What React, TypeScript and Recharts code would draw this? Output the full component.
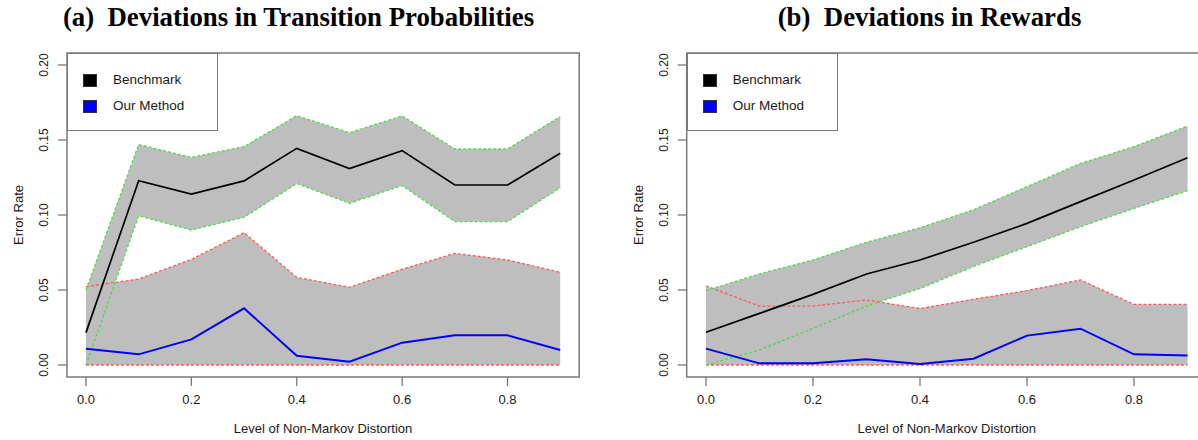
import React from 'react';
import { ComposedChart, Area, Line, XAxis, YAxis, ReferenceArea, Legend, Label } from 'recharts';

const distortion = [0, 0.1, 0.2, 0.3, 0.4, 0.5, 0.6, 0.7, 0.8, 0.9];
const xTicks = [0, 0.2, 0.4, 0.6, 0.8];
const yTicks = [0, 0.05, 0.1, 0.15, 0.2];
const seriesNames = ['Benchmark', 'Our Method'];
const seriesColors = ['#000000', '#0000ff'];

// (a) Deviations in Transition Probabilities
const transBenchMean = [0.0216, 0.1229, 0.114, 0.1227, 0.1444, 0.131, 0.1429, 0.12, 0.12, 0.1411];
const transBenchUpper = [0.05, 0.147, 0.1384, 0.1456, 0.1662, 0.1549, 0.166, 0.144, 0.144, 0.1656];
const transBenchLower = [0.0, 0.0995, 0.09, 0.0985, 0.121, 0.1078, 0.1196, 0.0956, 0.0956, 0.1182];
const transOurMean = [0.0109, 0.0071, 0.0171, 0.0378, 0.0062, 0.0022, 0.0149, 0.0198, 0.0198, 0.01];
const transOurUpper = [0.0522, 0.0573, 0.0704, 0.0882, 0.0584, 0.0518, 0.0638, 0.0744, 0.07, 0.0618];
const transOurLower = [0, 0, 0, 0, 0, 0, 0, 0, 0, 0];

// (b) Deviations in Rewards
const rewardBenchMean = [0.0218, 0.0344, 0.0471, 0.0607, 0.07, 0.0818, 0.0944, 0.1089, 0.1233, 0.1382];
const rewardBenchUpper = [0.0496, 0.0607, 0.07, 0.0818, 0.0915, 0.1035, 0.1189, 0.1344, 0.1456, 0.1593];
const rewardBenchLower = [0.0, 0.01, 0.0244, 0.0393, 0.051, 0.0656, 0.0789, 0.0922, 0.1044, 0.1162];
const rewardOurMean = [0.0109, 0.0011, 0.0011, 0.0038, 0.0007, 0.0042, 0.0196, 0.0242, 0.0071, 0.0064];
const rewardOurUpper = [0.0527, 0.0393, 0.0393, 0.0433, 0.0376, 0.0438, 0.0496, 0.0567, 0.0404, 0.0404];
const rewardOurLower = [0, 0, 0, 0, 0, 0, 0, 0, 0, 0];

const titles = ['(a)\u00a0\u00a0Deviations in Transition Probabilities', '(b)\u00a0\u00a0Deviations in Rewards'];
const xLabel = 'Level of Non-Markov Distortion';
const yLabel = 'Error Rate';

function build(bm: number[], bu: number[], bl: number[], om: number[], ou: number[], ol: number[]) {
  return distortion.map((x, i) => ({
    x,
    benchMean: bm[i],
    benchUpper: bu[i],
    benchLower: bl[i],
    benchBand: [bl[i], bu[i]],
    ourMean: om[i],
    ourUpper: ou[i],
    ourLower: ol[i],
    ourBand: [ol[i], ou[i]],
  }));
}

const transData = build(transBenchMean, transBenchUpper, transBenchLower, transOurMean, transOurUpper, transOurLower);
const rewardData = build(rewardBenchMean, rewardBenchUpper, rewardBenchLower, rewardOurMean, rewardOurUpper, rewardOurLower);

const X_DOMAIN: [number, number] = [-0.036, 0.936];
const Y_DOMAIN: [number, number] = [-0.008, 0.208];
const FONT = '"Liberation Sans", Arial, sans-serif';
const BOX = '#7a7a7a';
const GREEN = '#4fdc4f';
const RED = '#ff5a5a';
const GRAY = '#bebebe';

const XTick = (props: any) => {
  const { x, y, payload } = props;
  return (
    <text x={x} y={y + 18} textAnchor="middle" fontSize={13} fontFamily={FONT} fill="#1a1a1a">
      {Number(payload.value).toFixed(1)}
    </text>
  );
};

const YTick = (props: any) => {
  const { x, y, payload } = props;
  return (
    <text transform={`translate(${x - 10},${y}) rotate(-90)`} textAnchor="middle" fontSize={12} fontFamily={FONT} fill="#1a1a1a">
      {Number(payload.value).toFixed(2)}
    </text>
  );
};

const LegendBox = () => (
  <div
    style={{
      width: 151,
      height: 78,
      boxSizing: 'border-box',
      border: `1.5px solid ${BOX}`,
      background: '#fff',
      position: 'relative',
      fontFamily: FONT,
      fontSize: 13.5,
      color: '#1a1a1a',
    }}
  >
    {seriesNames.map((n, i) => (
      <div key={n} style={{ position: 'absolute', left: 15, top: 19 + i * 26, display: 'flex', alignItems: 'center', height: 14 }}>
        <div style={{ width: 14, height: 13, background: seriesColors[i], border: '1px solid #333', boxSizing: 'border-box' }} />
        <span style={{ marginLeft: 16, lineHeight: '14px', whiteSpace: 'nowrap' }}>{n}</span>
      </div>
    ))}
  </div>
);

function Panel({ data, width, marginLeft, marginRight }: { data: any[]; width: number; marginLeft: number; marginRight: number }) {
  return (
    <ComposedChart width={width} height={440} data={data} margin={{ top: 53, right: marginRight, bottom: 0, left: marginLeft }}>
      <XAxis
        dataKey="x"
        type="number"
        domain={X_DOMAIN}
        allowDataOverflow
        ticks={xTicks}
        interval={0}
        height={63}
        tickSize={9}
        tickMargin={0}
        tickLine={{ stroke: BOX, strokeWidth: 1.3 }}
        axisLine={false}
        tick={<XTick />}
      >
        <Label
          content={(p: any) => {
            const vb = p.viewBox;
            return (
              <text x={vb.x + vb.width / 2} y={vb.y + 56} textAnchor="middle" fontSize={13} fontFamily={FONT} fill="#1a1a1a">
                {xLabel}
              </text>
            );
          }}
        />
      </XAxis>
      <YAxis
        type="number"
        domain={Y_DOMAIN}
        allowDataOverflow
        ticks={yTicks}
        interval={0}
        width={60}
        tickSize={9}
        tickMargin={0}
        tickLine={{ stroke: BOX, strokeWidth: 1.3 }}
        axisLine={false}
        tick={<YTick />}
      >
        <Label
          content={(p: any) => {
            const vb = p.viewBox;
            return (
              <text
                transform={`translate(${vb.x + 16},${vb.y + vb.height / 2}) rotate(-90)`}
                textAnchor="middle"
                fontSize={13}
                fontFamily={FONT}
                fill="#1a1a1a"
              >
                {yLabel}
              </text>
            );
          }}
        />
      </YAxis>
      <Area dataKey="benchBand" type="linear" stroke="none" fill={GRAY} fillOpacity={1} dot={false} activeDot={false} isAnimationActive={false} />
      <Area dataKey="ourBand" type="linear" stroke="none" fill={GRAY} fillOpacity={1} dot={false} activeDot={false} isAnimationActive={false} />
      <Line dataKey="ourUpper" type="linear" stroke={RED} strokeWidth={1.3} strokeDasharray="3 2" dot={false} activeDot={false} isAnimationActive={false} />
      <Line dataKey="ourLower" type="linear" stroke={RED} strokeWidth={1.3} strokeDasharray="3 2" dot={false} activeDot={false} isAnimationActive={false} />
      <Line dataKey="benchUpper" type="linear" stroke={GREEN} strokeWidth={1.3} strokeDasharray="3 2" dot={false} activeDot={false} isAnimationActive={false} />
      <Line dataKey="benchLower" type="linear" stroke={GREEN} strokeWidth={1.3} strokeDasharray="3 2" dot={false} activeDot={false} isAnimationActive={false} />
      <Line dataKey="benchMean" type="linear" stroke="#000" strokeWidth={1.7} dot={false} activeDot={false} isAnimationActive={false} />
      <Line dataKey="ourMean" type="linear" stroke="#0000ff" strokeWidth={2} dot={false} activeDot={false} isAnimationActive={false} />
      <ReferenceArea
        x1={X_DOMAIN[0]}
        x2={X_DOMAIN[1]}
        y1={Y_DOMAIN[0]}
        y2={Y_DOMAIN[1]}
        fill="none"
        fillOpacity={0}
        stroke={BOX}
        strokeWidth={1.5}
        ifOverflow="visible"
      />
      <Legend
        layout="vertical"
        align="center"
        verticalAlign="middle"
        content={<LegendBox />}
        wrapperStyle={{ position: 'absolute', left: marginLeft + 60, top: 53, width: 151, height: 78, margin: 0, padding: 0 }}
      />
    </ComposedChart>
  );
}

export default function App() {
  const titleStyle: React.CSSProperties = {
    position: 'absolute',
    top: 4,
    fontFamily: '"Liberation Serif", "Times New Roman", serif',
    fontWeight: 'bold',
    fontSize: 26.8,
    lineHeight: 1,
    textAlign: 'center',
    color: '#000',
    whiteSpace: 'nowrap',
  };
  return (
    <div style={{ position: 'absolute', left: 0, top: 0, width: 1198, height: 440, overflow: 'hidden', background: '#fff' }}>
      <div style={{ ...titleStyle, left: 0, width: 597 }}>{titles[0]}</div>
      <div style={{ ...titleStyle, left: 630, width: 599 }}>{titles[1]}</div>
      <div style={{ position: 'absolute', left: 0, top: 0 }}>
        <Panel data={transData} width={600} marginLeft={7} marginRight={20.8} />
      </div>
      <div style={{ position: 'absolute', left: 600, top: 0 }}>
        <Panel data={rewardData} width={620} marginLeft={26.7} marginRight={13.2} />
      </div>
    </div>
  );
}
